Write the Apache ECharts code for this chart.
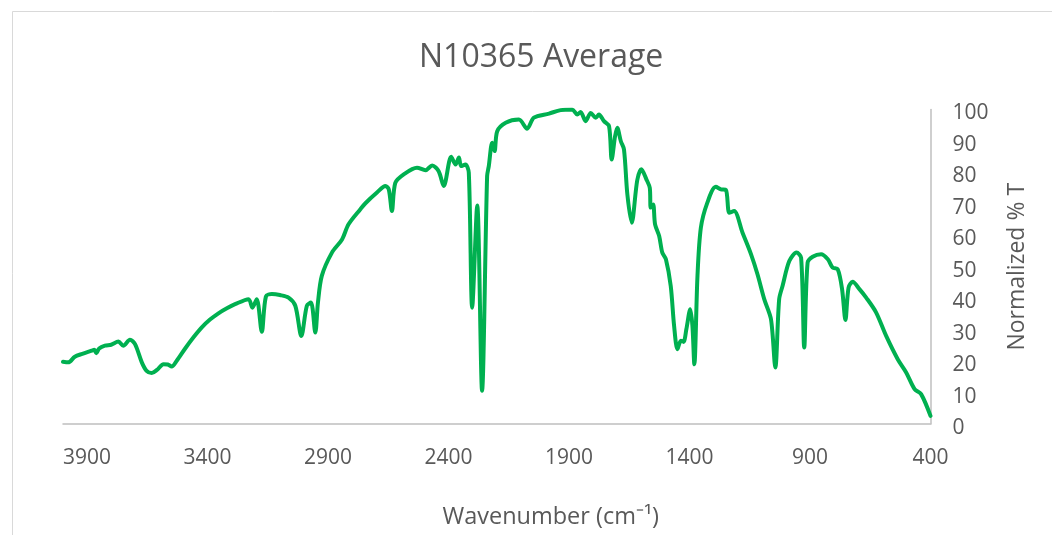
<!DOCTYPE html>
<html>
<head>
<meta charset="utf-8">
<title>N10365 Average</title>
<script src="https://cdn.jsdelivr.net/npm/echarts@6/dist/echarts.min.js"></script>
<style>
html, body { margin: 0; padding: 0; background: #fff; }
#chart { width: 1052px; height: 535px; }
</style>
</head>
<body>
<div id="chart"></div>
<script>
// spectrum (wavenumber in cm-1, normalized %T)
var wavenumbers = [
  4000, 3978, 3951, 3920, 3881, 3870, 3862, 3850, 3826, 3800, 3770, 3750, 3722, 3701,
  3673, 3653, 3632, 3610, 3583, 3565, 3549, 3528, 3493, 3460, 3424, 3390, 3355, 3320,
  3286, 3230, 3214, 3196, 3175, 3158, 3133, 3100, 3064, 3036, 3011, 2988, 2971, 2953,
  2942, 2926, 2884, 2842, 2815, 2766, 2745, 2697, 2662, 2648, 2635, 2621, 2586, 2531,
  2496, 2468, 2441, 2420, 2389, 2371, 2357, 2348, 2330, 2316, 2302, 2281, 2261, 2240,
  2233, 2219, 2209, 2198, 2163, 2108, 2074, 2046, 1983, 1935, 1887, 1866, 1852, 1831,
  1810, 1789, 1776, 1755, 1734, 1723, 1709, 1700, 1685, 1672, 1658, 1640, 1617, 1600,
  1579, 1565, 1561, 1551, 1543, 1526, 1513, 1498, 1478, 1464, 1450, 1436, 1425, 1413,
  1397, 1388, 1380, 1367, 1353, 1326, 1291, 1270, 1249, 1235, 1215, 1180, 1145, 1118,
  1090, 1062, 1044, 1028, 1014, 986, 956, 937, 924, 910, 889, 854, 826, 806,
  785, 767, 753, 740, 723, 695, 667, 626, 584, 536, 501, 466, 439, 400
];
var transmittance = [
  19.8, 19.6, 21.4, 22.3, 23.3, 23.6, 22.5, 24.0, 24.9, 25.2, 26.2, 24.9, 26.8, 25.4,
  19.6, 16.9, 16.2, 17.2, 19.0, 18.9, 18.3, 20.1, 24.0, 27.4, 30.7, 33.2, 35.2, 36.8,
  38.1, 39.7, 37.0, 39.7, 29.3, 40.5, 41.3, 41.0, 40.2, 37.6, 28.0, 37.6, 38.6, 29.1,
  38.6, 47.1, 54.5, 58.7, 63.5, 68.3, 70.2, 73.6, 75.7, 74.6, 67.7, 76.7, 79.4, 81.5,
  80.7, 82.2, 80.4, 75.7, 85.0, 82.5, 84.7, 82.0, 82.5, 79.9, 37.0, 69.5, 10.6, 78.8,
  82.0, 89.4, 86.8, 93.1, 95.8, 96.8, 93.9, 97.4, 98.7, 99.8, 100, 98.4, 99.2, 96.3,
  98.9, 97.4, 98.4, 96.3, 94.7, 84.1, 91.5, 94.2, 89.9, 87.3, 73.0, 64.0, 77.5, 81.0,
  77.8, 75.1, 68.8, 69.8, 63.5, 59.8, 54.5, 52.4, 43.9, 31.2, 23.8, 26.5, 26.1, 30.2,
  36.5, 31.2, 19.0, 47.1, 62.4, 70.4, 75.4, 74.6, 74.4, 67.2, 67.7, 60.8, 54.0, 47.6,
  39.7, 33.3, 18.0, 39.7, 43.9, 51.8, 54.5, 52.9, 24.3, 51.3, 53.2, 54.0, 52.4, 49.7,
  49.2, 42.9, 33.1, 43.4, 45.2, 42.9, 40.2, 35.5, 28.0, 20.6, 16.4, 11.1, 9.5, 2.6
];
var xTicks = [3900, 3400, 2900, 2400, 1900, 1400, 900, 400];

var textColor = '#595959';
var axisColor = '#bfbfbf';
var fontName = 'Open Sans';

var seriesData = wavenumbers.map(function (w, i) { return [w, transmittance[i]]; });

var myChart = echarts.init(document.getElementById('chart'), null, { renderer: 'canvas' });
var option = {
    backgroundColor: '#fff',
    animation: false,
    textStyle: { fontFamily: fontName, color: textColor },
    title: {
        text: 'N10365 Average',
        left: 414,
        top: 37,
        textStyle: { fontFamily: fontName, fontSize: 32, fontWeight: 'normal', color: textColor }
    },
    graphic: [{
        // faint chart-area border like the spreadsheet frame
        type: 'rect',
        shape: { x: 12.5, y: 11.5, width: 1100, height: 600 },
        style: { fill: null, stroke: '#d9d9d9', lineWidth: 1 },
        silent: true
    }],
    grid: { left: 63, right: 121.5, top: 109.5, bottom: 111, containLabel: false },
    xAxis: {
        type: 'value',
        inverse: true,
        min: 400,
        max: 4000,
        interval: 500,
        name: 'Wavenumber (cm⁻¹)',
        nameLocation: 'middle',
        nameGap: 81,
        nameTextStyle: { fontFamily: fontName, fontSize: 23.5, color: textColor, padding: [0, 0, 0, 108] },
        axisLine: { show: true, lineStyle: { color: axisColor, width: 1.5 } },
        axisTick: { show: false },
        splitLine: { show: false },
        axisLabel: {
            margin: 24,
            fontFamily: fontName,
            fontSize: 21,
            color: textColor,
            formatter: function (v) { return xTicks.indexOf(v) >= 0 ? String(v) : ''; }
        }
    },
    yAxis: {
        type: 'value',
        position: 'right',
        min: 0,
        max: 100,
        interval: 10,
        name: 'Normalized % T',
        nameLocation: 'middle',
        nameRotate: 90,
        nameGap: 75,
        nameTextStyle: { fontFamily: fontName, fontSize: 23, color: textColor },
        axisLine: { show: true, lineStyle: { color: axisColor, width: 1.5 } },
        axisTick: { show: false },
        splitLine: { show: false },
        axisLabel: {
            margin: 22,
            formatter: function (v) { return '{t|' + v + '}'; },
            rich: {
                t: { fontFamily: fontName, fontSize: 21, color: textColor, padding: [8, 0, 0, 0] }
            }
        }
    },
    series: [{
        name: 'N10365 Average',
        type: 'line',
        data: seriesData,
        showSymbol: false,
        smooth: 0.3,
        clip: true,
        lineStyle: { color: '#00b050', width: 4, join: 'round', cap: 'round' },
        itemStyle: { color: '#00b050' }
    }]
};
myChart.setOption(option);
window.onresize = myChart.resize;
</script>
</body>
</html>
